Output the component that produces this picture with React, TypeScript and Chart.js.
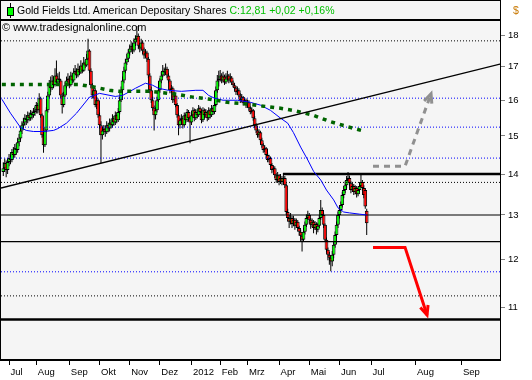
import { useEffect, useRef } from "react";
import { Chart, registerables } from "chart.js";
Chart.register(...registerables);

const FONT = '"Liberation Sans", Arial, sans-serif';

// trading-day index of the first candle (0 = first trading day of Jul 2011)
const firstDay = -4;

const opens = [
  14.05, 14.15, 14.28, 14.10, 14.31, 14.41, 14.36, 14.57, 14.49, 14.67,
  14.62, 14.83, 14.93, 15.15, 15.29, 15.37, 15.49, 15.43, 15.57, 15.49,
  15.63, 15.57, 15.66, 15.71, 15.86, 15.71, 16.06, 15.57, 15.02, 14.75,
  15.15, 15.71, 16.14, 16.44, 16.35, 16.58, 16.44, 16.73, 16.52, 16.64,
  16.58, 16.14, 15.86, 16.14, 16.44, 16.58, 16.64, 16.44, 16.73, 16.58,
  16.82, 16.88, 16.73, 16.94, 16.82, 17.04, 16.88, 17.13, 17.04, 17.25,
  17.51, 16.88, 16.44, 16.14, 16.29, 15.86, 16.00, 15.57, 15.29, 15.02,
  15.15, 15.20, 15.10, 15.29, 15.20, 15.37, 15.29, 15.49, 15.37, 15.57,
  15.43, 15.66, 16.00, 16.29, 16.58, 16.88, 17.13, 17.25, 17.44, 17.57,
  17.66, 17.51, 17.76, 17.88, 17.98, 17.66, 17.57, 17.76, 17.51, 17.35,
  17.44, 17.25, 16.73, 16.29, 16.00, 15.77, 15.57, 15.71, 16.00, 16.29,
  16.58, 16.73, 16.88, 16.82, 16.94, 16.73, 16.58, 16.29, 16.35, 16.00,
  16.14, 15.86, 15.57, 15.29, 15.43, 15.49, 15.29, 15.57, 15.43, 15.66,
  15.49, 15.37, 15.57, 15.71, 15.49, 15.66, 15.57, 15.77, 15.66, 15.43,
  15.71, 15.57, 15.66, 15.49, 15.71, 15.57, 15.77, 15.66, 15.86, 16.29,
  16.58, 16.64, 16.73, 16.58, 16.70, 16.52, 16.64, 16.73, 16.58, 16.67,
  16.52, 16.44, 16.35, 16.23, 16.29, 16.14, 16.00, 16.09, 15.91, 16.00,
  15.86, 15.94, 15.77, 15.66, 15.71, 15.49, 15.29, 15.15, 15.02, 15.10,
  14.88, 14.75, 14.62, 14.67, 14.49, 14.36, 14.41, 14.23, 14.10, 14.15,
  13.97, 13.85, 13.97, 13.80, 13.90, 13.80, 13.90, 13.72, 13.07, 12.93,
  12.84, 12.93, 12.79, 12.89, 12.75, 12.84, 12.70, 12.61, 12.52, 12.43,
  12.61, 12.77, 12.93, 13.00, 12.89, 12.77, 12.84, 12.70, 12.79, 12.66,
  12.75, 12.93, 13.12, 13.00, 12.77, 12.43, 12.21, 12.10, 12.03, 11.95,
  12.10, 12.32, 12.54, 12.77, 13.00, 13.12, 13.24, 13.48, 13.60, 13.72,
  13.85, 13.90, 13.77, 13.60, 13.70, 13.55, 13.65, 13.50, 13.60, 13.70,
  13.80, 13.65, 13.60, 13.10,
];

const highs = [
  14.30, 14.40, 14.35, 14.40, 14.52, 14.50, 14.65, 14.70, 14.78, 14.80,
  14.95, 15.05, 15.25, 15.40, 15.50, 15.60, 15.58, 15.68, 15.65, 15.72,
  15.70, 15.78, 15.82, 15.95, 15.92, 16.20, 16.10, 15.62, 15.10, 15.25,
  15.80, 16.25, 16.60, 16.70, 16.75, 16.70, 16.95, 17.19, 16.80, 16.85,
  16.62, 16.22, 16.25, 16.55, 16.70, 16.80, 16.70, 16.85, 16.80, 16.95,
  17.05, 16.95, 17.10, 17.00, 17.20, 17.10, 17.30, 17.20, 17.40, 17.88,
  17.55, 16.95, 16.50, 16.40, 16.35, 16.10, 16.05, 15.65, 15.40, 15.25,
  15.30, 15.28, 15.40, 15.35, 15.48, 15.45, 15.60, 15.55, 15.68, 15.65,
  15.78, 16.10, 16.40, 16.70, 17.00, 17.25, 17.40, 17.55, 17.70, 17.80,
  17.75, 17.90, 18.00, 18.30, 18.05, 17.75, 17.88, 17.82, 17.60, 17.55,
  17.50, 17.30, 16.80, 16.40, 16.10, 15.85, 15.80, 16.10, 16.40, 16.65,
  16.85, 17.05, 16.98, 17.10, 17.00, 16.80, 16.62, 16.45, 16.40, 16.25,
  16.20, 15.92, 15.62, 15.50, 15.60, 15.55, 15.65, 15.62, 15.75, 15.72,
  15.55, 15.65, 15.80, 15.76, 15.75, 15.72, 15.86, 15.82, 15.70, 15.80,
  15.76, 15.75, 15.70, 15.80, 15.76, 15.86, 15.82, 15.95, 16.40, 16.75,
  16.88, 16.90, 16.80, 16.85, 16.76, 16.80, 16.88, 16.78, 16.80, 16.72,
  16.58, 16.50, 16.42, 16.40, 16.35, 16.20, 16.18, 16.12, 16.08, 16.05,
  16.02, 16.00, 15.82, 15.80, 15.75, 15.55, 15.35, 15.20, 15.18, 15.14,
  14.95, 14.80, 14.75, 14.70, 14.55, 14.50, 14.45, 14.28, 14.22, 14.20,
  14.02, 14.05, 14.00, 14.00, 13.95, 14.02, 13.95, 13.76, 13.15, 13.00,
  13.05, 12.98, 12.98, 12.93, 12.92, 12.88, 12.75, 12.66, 12.58, 12.70,
  12.85, 13.02, 13.10, 13.05, 12.93, 12.92, 12.88, 12.86, 12.83, 12.82,
  13.00, 13.36, 13.18, 13.04, 12.80, 12.48, 12.26, 12.16, 12.08, 12.18,
  12.40, 12.62, 12.85, 13.08, 13.20, 13.32, 13.56, 13.70, 13.82, 13.95,
  14.05, 13.96, 13.82, 13.78, 13.75, 13.72, 13.70, 13.68, 13.78, 14.02,
  13.85, 13.72, 13.65, 13.15,
];

const lows = [
  13.95, 14.05, 13.92, 14.00, 14.20, 14.25, 14.30, 14.40, 14.42, 14.50,
  14.55, 14.72, 14.88, 15.05, 15.20, 15.28, 15.30, 15.35, 15.40, 15.42,
  15.45, 15.50, 15.55, 15.62, 15.62, 15.65, 15.50, 14.95, 14.55, 14.70,
  15.10, 15.65, 16.05, 16.25, 16.30, 16.35, 16.40, 16.45, 16.45, 16.50,
  16.05, 15.62, 15.80, 16.10, 16.35, 16.50, 16.35, 16.40, 16.50, 16.52,
  16.75, 16.65, 16.68, 16.75, 16.78, 16.80, 16.85, 16.95, 17.00, 17.20,
  16.80, 16.35, 16.05, 16.05, 15.80, 15.75, 15.50, 15.20, 14.28, 14.90,
  15.05, 14.98, 15.05, 15.10, 15.12, 15.20, 15.22, 15.28, 15.30, 15.35,
  15.38, 15.60, 15.95, 16.22, 16.50, 16.80, 17.05, 17.15, 17.35, 17.45,
  17.40, 17.45, 17.65, 17.80, 17.55, 17.45, 17.50, 17.40, 17.25, 17.28,
  17.15, 16.65, 16.20, 15.92, 15.70, 15.15, 15.45, 15.65, 15.95, 16.22,
  16.50, 16.68, 16.72, 16.75, 16.65, 16.50, 16.20, 16.22, 15.92, 15.95,
  15.80, 15.50, 15.02, 15.20, 15.35, 15.20, 15.25, 15.35, 15.38, 15.40,
  14.80, 15.30, 15.50, 15.40, 15.44, 15.48, 15.52, 15.58, 15.35, 15.38,
  15.48, 15.50, 15.40, 15.44, 15.48, 15.52, 15.58, 15.60, 15.82, 16.22,
  16.40, 16.55, 16.50, 16.52, 16.45, 16.48, 16.58, 16.50, 16.52, 16.45,
  16.38, 16.28, 16.15, 16.18, 16.08, 15.92, 15.95, 15.85, 15.86, 15.78,
  15.80, 15.70, 15.60, 15.62, 15.42, 15.22, 15.08, 14.95, 14.96, 14.82,
  14.68, 14.55, 14.56, 14.42, 14.30, 14.30, 14.18, 14.02, 14.05, 13.90,
  13.78, 13.80, 13.72, 13.75, 13.72, 13.75, 13.65, 13.00, 12.85, 12.70,
  12.78, 12.70, 12.74, 12.66, 12.70, 12.62, 12.52, 12.40, 12.17, 12.38,
  12.55, 12.72, 12.88, 12.80, 12.68, 12.72, 12.58, 12.65, 12.55, 12.60,
  12.70, 12.88, 12.94, 12.70, 12.38, 12.15, 11.98, 11.88, 11.74, 11.85,
  12.02, 12.25, 12.48, 12.70, 12.92, 13.05, 13.18, 13.40, 13.52, 13.65,
  13.78, 13.70, 13.52, 13.55, 13.48, 13.50, 13.42, 13.45, 13.55, 13.65,
  13.58, 13.40, 13.15, 12.54,
];

const closes = [
  14.15, 14.28, 14.10, 14.31, 14.41, 14.36, 14.57, 14.49, 14.67, 14.62,
  14.83, 14.93, 15.15, 15.29, 15.37, 15.49, 15.43, 15.57, 15.49, 15.63,
  15.57, 15.66, 15.71, 15.86, 15.71, 16.06, 15.57, 15.02, 14.75, 15.15,
  15.71, 16.14, 16.44, 16.35, 16.58, 16.44, 16.73, 16.52, 16.64, 16.58,
  16.14, 15.86, 16.14, 16.44, 16.58, 16.64, 16.44, 16.73, 16.58, 16.82,
  16.88, 16.73, 16.94, 16.82, 17.04, 16.88, 17.13, 17.04, 17.25, 17.51,
  16.88, 16.44, 16.14, 16.29, 15.86, 16.00, 15.57, 15.29, 15.02, 15.15,
  15.20, 15.10, 15.29, 15.20, 15.37, 15.29, 15.49, 15.37, 15.57, 15.43,
  15.66, 16.00, 16.29, 16.58, 16.88, 17.13, 17.25, 17.44, 17.57, 17.66,
  17.51, 17.76, 17.88, 17.98, 17.66, 17.57, 17.76, 17.51, 17.35, 17.44,
  17.25, 16.73, 16.29, 16.00, 15.77, 15.57, 15.71, 16.00, 16.29, 16.58,
  16.73, 16.88, 16.82, 16.94, 16.73, 16.58, 16.29, 16.35, 16.00, 16.14,
  15.86, 15.57, 15.29, 15.43, 15.49, 15.29, 15.57, 15.43, 15.66, 15.49,
  15.37, 15.57, 15.71, 15.49, 15.66, 15.57, 15.77, 15.66, 15.43, 15.71,
  15.57, 15.66, 15.49, 15.71, 15.57, 15.77, 15.66, 15.86, 16.29, 16.58,
  16.64, 16.73, 16.58, 16.70, 16.52, 16.64, 16.73, 16.58, 16.67, 16.52,
  16.44, 16.35, 16.23, 16.29, 16.14, 16.00, 16.09, 15.91, 16.00, 15.86,
  15.94, 15.77, 15.66, 15.71, 15.49, 15.29, 15.15, 15.02, 15.10, 14.88,
  14.75, 14.62, 14.67, 14.49, 14.36, 14.41, 14.23, 14.10, 14.15, 13.97,
  13.85, 13.97, 13.80, 13.90, 13.80, 13.90, 13.72, 13.07, 12.93, 12.84,
  12.93, 12.79, 12.89, 12.75, 12.84, 12.70, 12.61, 12.52, 12.43, 12.61,
  12.77, 12.93, 13.00, 12.89, 12.77, 12.84, 12.70, 12.79, 12.66, 12.75,
  12.93, 13.12, 13.00, 12.77, 12.43, 12.21, 12.10, 12.03, 11.95, 12.10,
  12.32, 12.54, 12.77, 13.00, 13.12, 13.24, 13.48, 13.60, 13.72, 13.85,
  13.90, 13.77, 13.60, 13.70, 13.55, 13.65, 13.50, 13.60, 13.70, 13.80,
  13.65, 13.48, 13.20, 12.81,
];

// moving averages (trading-day index, price)
const maFastX = [-5, 1, 8, 12, 17, 24, 31, 34, 40, 47, 56, 63, 74, 79, 83, 88, 95, 100, 104, 111, 120, 130, 135, 139, 143, 149, 159, 168, 175, 182, 189, 194, 198, 203, 208, 212, 217, 221, 226, 229, 233, 237, 244, 249];
const maFastY = [16.03, 15.63, 15.23, 15.15, 15.12, 15.12, 15.15, 15.20, 15.35, 15.63, 16.09, 16.20, 16.11, 16.14, 16.23, 16.35, 16.50, 16.44, 16.35, 16.29, 16.26, 16.29, 16.29, 16.14, 16.06, 16.00, 16.00, 15.94, 15.86, 15.71, 15.49, 15.35, 15.09, 14.70, 14.36, 14.07, 13.85, 13.60, 13.36, 13.17, 13.07, 13.05, 13.02, 13.00];
const maSlowX = [-5, 22, 49, 60, 70, 77, 98, 116, 128, 140, 152, 166, 177, 189, 200, 212, 223, 235, 248];
const maSlowY = [16.46, 16.46, 16.46, 16.38, 16.29, 16.26, 16.26, 16.18, 16.09, 16.03, 15.94, 15.89, 15.83, 15.77, 15.69, 15.57, 15.40, 15.26, 15.12];

// axis
const xMin = -5.6;
const xMax = 342.5;
const monthTicks = [0, 19, 42, 63, 84, 105, 127, 147, 166, 188, 209, 230, 252, 283, 315];
const monthLabels = ["Jul", "Aug", "Sep", "Okt", "Nov", "Dez", "2012", "Feb", "Mrz", "Apr", "Mai", "Jun", "Jul", "Aug", "Sep"];
const priceTicks = [11, 12, 13, 14, 15, 16, 17, 18];
const yMin = 10;
const yMax = 18.5;

// drawn lines
const trendX = [xMin, xMax];
const trendY = [13.65, 17.09];
const blackDottedLevels = [17.815, 13.79, 11.23];
const blueDottedLevels = [16.06, 15.24, 14.41, 11.73];
const thinLevels = [13.0, 12.39];
const heavyLevels = [10.76];
const resistanceStart = 190.7;
const resistanceLevel = 14.0;
const bearX = [253.4, 275.7, 291.0];
const bearY = [12.26, 12.26, 10.85];
const bullX = [253.4, 275.7, 293.8];
const bullY = [14.2, 14.2, 16.19];

const pts = (xs: number[], ys: number[]) => xs.map((x, i) => ({ x, y: ys[i] }));

const level = (y: number, color: string, width: number, dash: number[], x0 = xMin) => ({
  type: "line" as const,
  data: [{ x: x0, y }, { x: xMax, y }],
  borderColor: color,
  borderWidth: width,
  borderDash: dash,
  pointRadius: 0,
  order: 3,
});

const arrowPlugin = {
  id: "arrowHeads",
  afterDatasetsDraw(chart: any) {
    const ctx = chart.ctx;
    chart.data.datasets.forEach((ds: any, i: number) => {
      if (!ds.arrowHead) return;
      const els = chart.getDatasetMeta(i).data;
      const a = els[els.length - 2];
      const b = els[els.length - 1];
      const ang = Math.atan2(b.y - a.y, b.x - a.x);
      const L = 10;
      const s = 0.42;
      ctx.save();
      ctx.strokeStyle = ds.borderColor;
      ctx.lineWidth = ds.borderWidth;
      ctx.setLineDash([]);
      ctx.beginPath();
      ctx.moveTo(b.x - L * Math.cos(ang - s), b.y - L * Math.sin(ang - s));
      ctx.lineTo(b.x, b.y);
      ctx.lineTo(b.x - L * Math.cos(ang + s), b.y - L * Math.sin(ang + s));
      ctx.stroke();
      ctx.restore();
    });
  },
};

const framePlugin = {
  id: "frame",
  beforeDraw(chart: any) {
    const { ctx, chartArea: a } = chart;
    ctx.save();
    ctx.fillStyle = "#ffffff";
    ctx.fillRect(0, 0, chart.width, chart.height);
    ctx.fillStyle = "#f5f5f5";
    ctx.fillRect(0, 0, a.right, a.bottom + 1);
    ctx.restore();
  },
  afterDraw(chart: any) {
    const { ctx, chartArea: a } = chart;
    ctx.save();
    ctx.strokeStyle = "#000";
    ctx.lineWidth = 1;
    ctx.beginPath();
    ctx.moveTo(0.5, 0);
    ctx.lineTo(0.5, a.bottom);
    ctx.moveTo(0, 0.5);
    ctx.lineTo(a.right, 0.5);
    ctx.moveTo(a.right - 0.5, 0);
    ctx.lineTo(a.right - 0.5, a.bottom + 1);
    ctx.stroke();
    ctx.lineWidth = 2;
    ctx.beginPath();
    ctx.moveTo(0, a.top);
    ctx.lineTo(a.right, a.top);
    ctx.moveTo(0, a.bottom);
    ctx.lineTo(a.right, a.bottom);
    ctx.stroke();
    ctx.restore();
  },
};

export default function App() {
  const ref = useRef<HTMLCanvasElement>(null);

  useEffect(() => {
    const canvas = ref.current;
    if (!canvas) return;
    const days = closes.map((_, i) => firstDay + i);
    const bodyColors = closes.map((c, i) => (c >= opens[i] ? "#00ff00" : "#ff0000"));

    const chart = new Chart(canvas, {
      type: "bar",
      data: {
        datasets: [
          {
            type: "bar",
            data: days.map((d, i) => ({ x: d, y: [lows[i], highs[i]] })) as any,
            backgroundColor: "#000000",
            borderWidth: 0,
            grouped: false,
            categoryPercentage: 1,
            barPercentage: 0.7,
            order: 6,
          } as any,
          {
            type: "bar",
            data: days.map((d, i) => ({ x: d, y: [opens[i], closes[i]] })) as any,
            backgroundColor: bodyColors,
            borderColor: "#000000",
            borderWidth: 1,
            borderSkipped: false,
            grouped: false,
            categoryPercentage: 1,
            barPercentage: 2.6,
            order: 5,
          } as any,
          ...blackDottedLevels.map((v) => level(v, "#000000", 1, [1, 2])),
          ...blueDottedLevels.map((v) => level(v, "#0000ff", 1, [1, 2])),
          ...thinLevels.map((v) => level(v, "#000000", 1.2, [])),
          ...heavyLevels.map((v) => level(v, "#000000", 2.5, [])),
          level(resistanceLevel, "#000000", 2.5, [], resistanceStart),
          {
            type: "line",
            data: pts(trendX, trendY),
            borderColor: "#000000",
            borderWidth: 1.3,
            pointRadius: 0,
            order: 2,
          },
          {
            type: "line",
            data: pts(maSlowX, maSlowY),
            borderColor: "#006400",
            borderWidth: 3.5,
            borderDash: [4, 5],
            pointRadius: 0,
            order: 2,
          },
          {
            type: "line",
            data: pts(maFastX, maFastY),
            borderColor: "#0000ff",
            borderWidth: 1,
            pointRadius: 0,
            order: 2,
          },
          {
            type: "line",
            data: pts(bearX, bearY),
            borderColor: "#ff0000",
            borderWidth: 3,
            pointRadius: 0,
            order: 1,
            arrowHead: true,
          } as any,
          {
            type: "line",
            data: pts(bullX, bullY),
            borderColor: "#909090",
            borderWidth: 3,
            borderDash: [6, 5],
            pointRadius: 0,
            order: 1,
            arrowHead: true,
          } as any,
        ],
      },
      options: {
        responsive: false,
        animation: false,
        devicePixelRatio: 1,
        layout: { padding: { left: 1, top: 20, right: 0, bottom: 0 } },
        plugins: { legend: { display: false }, tooltip: { enabled: false } },
        scales: {
          x: {
            type: "linear",
            min: xMin,
            max: xMax,
            offset: false,
            border: { display: false },
            grid: { drawOnChartArea: false, drawTicks: true, tickLength: 5, color: "#000000", offset: false },
            ticks: {
              autoSkip: false,
              maxRotation: 0,
              minRotation: 0,
              align: "start",
              labelOffset: 1.5,
              padding: 2,
              color: "#000000",
              font: { family: FONT, size: 9.5 },
              callback: (_v: any, i: number) => monthLabels[i],
            },
            afterBuildTicks: (s: any) => {
              s.ticks = monthTicks.map((v) => ({ value: v }));
            },
            afterFit: (s: any) => {
              s.height = 20;
            },
          },
          y: {
            type: "logarithmic",
            position: "right",
            min: yMin,
            max: yMax,
            border: { display: false },
            grid: { drawOnChartArea: false, drawTicks: true, tickLength: 4, color: "#808080" },
            ticks: {
              padding: 3,
              color: "#000000",
              font: { family: FONT, size: 9.5 },
              callback: (v: any) => String(v),
            },
            afterBuildTicks: (s: any) => {
              s.ticks = priceTicks.map((v) => ({ value: v }));
            },
            afterFit: (s: any) => {
              s.width = 31;
            },
          },
        },
      } as any,
      plugins: [framePlugin, arrowPlugin],
    });
    return () => chart.destroy();
  }, []);

  return (
    <div style={{ position: "fixed", left: 0, top: 0, width: 532, height: 380, background: "#fff", fontFamily: FONT }}>
      <canvas ref={ref} width={532} height={380} style={{ position: "absolute", left: 0, top: 0, width: 532, height: 380 }} />
      <div style={{ position: "absolute", left: 10, top: 3, width: 1, height: 15, background: "#000" }} />
      <div style={{ position: "absolute", left: 7, top: 7, width: 5, height: 7, background: "#00ff00", border: "1px solid #000" }} />
      <div style={{ position: "absolute", left: 17, top: 4, fontSize: 10.5, lineHeight: "12px", whiteSpace: "nowrap", color: "#000" }}>
        Gold Fields Ltd. American Depositary Shares <span style={{ color: "#00c000" }}>C:12,81 +0,02 +0,16%</span>
      </div>
      <div style={{ position: "absolute", left: 2, top: 21, fontSize: 11, lineHeight: "12px", whiteSpace: "nowrap", color: "#000" }}>
        © www.tradesignalonline.com
      </div>
      <div style={{ position: "absolute", left: 513, top: 4, fontSize: 10.5, lineHeight: "12px", color: "#c87800" }}>$</div>
    </div>
  );
}
